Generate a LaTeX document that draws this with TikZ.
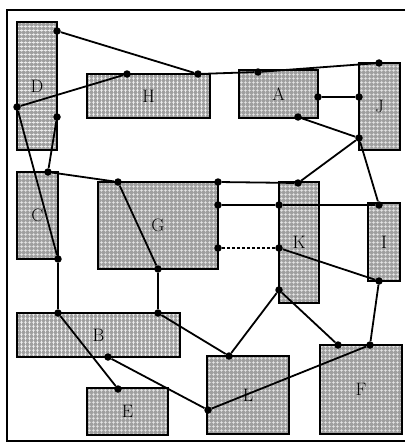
\documentclass[tikz,border=0pt]{standalone}
\usetikzlibrary{patterns,patterns.meta}
\tikzdeclarepattern{
    name=roomgrid,
    type=uncolored,
    bounding box={(0pt,0pt) and (4pt,4pt)},
    tile size={(4pt,4pt)},
    code={
        \draw[line width=0.9pt] (0pt,2pt) -- (4pt,2pt) (2pt,0pt) -- (2pt,4pt);
    }
}
\begin{document}
\begin{tikzpicture}[
        x=1pt, y=-1pt,
        room/.style={
            fill=gray!75,
            postaction={pattern=roomgrid, pattern color=white!85!gray},
            postaction={draw=black, line width=1.8pt},
            inner sep=0pt,
            font=\fontsize{18}{18}\selectfont
        },
        dot/.style={circle, fill=black, minimum size=7.5pt, inner sep=0pt},
        link/.style={line width=1.8pt}
    ]
    \useasboundingbox (0,0) rectangle (405,444);

    % Marco
    \draw[line width=1.4pt] (405,10) -- (7,10) -- (7,441) -- (405,441);

    % Salas
    \node[room, minimum width=40pt,  minimum height=128pt] (D) at (37,86)      {D};
    \node[room, minimum width=123pt, minimum height=44pt]  (H) at (148.5,96)   {H};
    \node[room, minimum width=79pt,  minimum height=48pt]  (A) at (278.5,94)   {A};
    \node[room, minimum width=41pt,  minimum height=87pt]  (J) at (379.5,106.5) {J};
    \node[room, minimum width=41pt,  minimum height=87pt]  (C) at (37.5,215.5) {C};
    \node[room, minimum width=120pt, minimum height=87pt]  (G) at (158,225.5)  {G};
    \node[room, minimum width=40pt,  minimum height=121pt] (K) at (299,242.5)  {K};
    \node[room, minimum width=32pt,  minimum height=78pt]  (I) at (384,242)    {I};
    \node[room, minimum width=163pt, minimum height=44pt]  (B) at (98.5,335)   {B};
    \node[room, minimum width=81pt,  minimum height=47pt]  (E) at (127.5,411.5) {E};
    \node[room, minimum width=82pt,  minimum height=78pt]  (L) at (248,395)    {L};
    \node[room, minimum width=82pt,  minimum height=89pt]  (F) at (361,389.5)  {F};

    % Puntos
    \foreach \n/\x/\y in {d1/57/31, d2/17/107, d3/57/117,
                          h1/127/74, h2/198/74,
                          a1/258/72, a2/318/97, a3/298/117,
                          j1/379/63, j2/359/97, j3/359/138,
                          c1/48/172, c2/58/259,
                          g1/118/182, g2/218/182, g3/218/205, g4/218/248, g5/158/269,
                          k1/298/183, k2/279/205, k3/279/248, k4/279/290,
                          i1/379/205, i2/379/281,
                          b1/58/313, b2/158/313, b3/108/357,
                          e1/118/389, l1/229/356, l2/208/410,
                          f1/338/345, f2/370/345}
        \node[dot] (\n) at (\x,\y) {};

    % Enlaces
    \draw[link] (d1) -- (h2);
    \draw[link] (d2) -- (h1);
    \draw[link] (h2) -- (a1);
    \draw[link] (a1) -- (j1);
    \draw[link] (a2) -- (j2);
    \draw[link] (a3) -- (j3);
    \draw[link] (j3) -- (k1);
    \draw[link] (j3) -- (i1);
    \draw[link] (d3) -- (c1);
    \draw[link] (d2) -- (c2);
    \draw[link] (c1) -- (g1);
    \draw[link] (g1) -- (g5);
    \draw[link] (g2) -- (k1);
    \draw[link] (g3) -- (k2);
    \draw[link] (k2) -- (i1);
    \draw[line width=1.2pt, densely dashed] (g4) -- (k3);
    \draw[link] (k3) -- (i2);
    \draw[link] (i2) -- (f2);
    \draw[link] (k4) -- (l1);
    \draw[link] (k4) -- (f1);
    \draw[link] (f2) -- (l2);
    \draw[link] (b3) -- (l2);
    \draw[link] (c2) -- (b1);
    \draw[link] (g5) -- (b2);
    \draw[link] (b1) -- (e1);
    \draw[link] (b2) -- (l1);

\end{tikzpicture}
\end{document}
